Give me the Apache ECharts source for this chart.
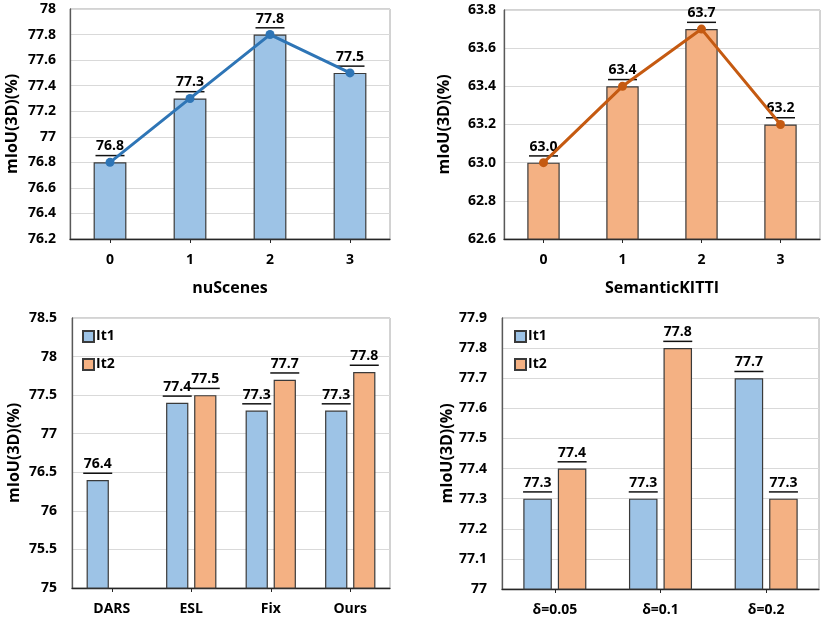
<!DOCTYPE html>
<html>
<head>
<meta charset="utf-8">
<script src="https://cdn.jsdelivr.net/npm/echarts@6/dist/echarts.min.js"></script>
<style>
html,body{margin:0;padding:0;background:#fff;}
#c{width:822px;height:617px;}
</style>
</head>
<body>
<div id="c"></div>
<script>
// ---- data ----
const nuCats = ['0', '1', '2', '3'];
const nuVals = [76.8, 77.3, 77.8, 77.5];
const kittiCats = ['0', '1', '2', '3'];
const kittiVals = [63.0, 63.4, 63.7, 63.2];
const methodCats = ['DARS', 'ESL', 'Fix', 'Ours'];
const methodIt1 = [76.4, 77.4, 77.3, 77.3];
const methodIt2 = [null, 77.5, 77.7, 77.8];
const deltaCats = ['δ=0.05', 'δ=0.1', 'δ=0.2'];
const deltaIt1 = [77.3, 77.3, 77.7];
const deltaIt2 = [77.4, 77.8, 77.3];
const seriesNames = ['It1', 'It2'];
const yName = 'mIoU(3D)(%)';

// ---- style ----
const FONT = '"Open Sans", "Noto Sans", sans-serif';
const BLUE = '#9DC3E6', ORANGE = '#F4B183';
const BLUE_LINE = '#2E75B6', ORANGE_LINE = '#C55A11';
const BORDER = '#3a3a3a';

const labelCfg = {
  show: true,
  position: 'top',
  distance: 6,
  formatter: p => '{t|' + Number(p.value).toFixed(1) + '}\n{u|}',
  rich: {
    t: { fontFamily: FONT, fontWeight: 'bold', fontSize: 14, color: '#000', lineHeight: 17, align: 'center' },
    u: { width: 29, height: 1.5, lineHeight: 1.5, backgroundColor: '#111', align: 'center' }
  }
};

function grid(left, top, width, height) {
  return { left, top, width, height, show: true, borderColor: '#a6a6a6', borderWidth: 1, backgroundColor: 'transparent' };
}
function xAxis(idx, cats, name) {
  return {
    gridIndex: idx, type: 'category', data: cats,
    name: name || '', nameLocation: 'middle', nameGap: 41,
    nameTextStyle: { fontFamily: FONT, fontWeight: 'bold', fontSize: 16, color: '#000' },
    axisLine: { lineStyle: { color: '#262626', width: 1.3 } },
    axisTick: { show: true, alignWithLabel: true, length: 4, lineStyle: { color: '#262626' } },
    axisLabel: { fontFamily: FONT, fontWeight: 'bold', fontSize: 14, color: '#000', margin: 14 },
    splitLine: { show: false }
  };
}
function yAxis(idx, min, max, interval, gap, margin, fmt) {
  return {
    gridIndex: idx, type: 'value', min, max, interval,
    name: yName, nameLocation: 'middle', nameGap: gap, nameRotate: 90,
    nameTextStyle: { fontFamily: FONT, fontWeight: 'bold', fontSize: 16, color: '#000' },
    axisLine: { show: true, lineStyle: { color: '#595959', width: 1.3 } },
    axisTick: { show: false },
    axisLabel: { fontFamily: FONT, fontWeight: 'bold', fontSize: 14, color: '#000', margin: margin, formatter: fmt },
    splitLine: { show: true, lineStyle: { color: '#d9d9d9', width: 1 } }
  };
}
const fmtDefault = v => String(+v.toFixed(2));
const fmt1 = v => v.toFixed(1);

function legend(names, left) {
  return {
    data: names, orient: 'vertical', left: left, top: 327, itemGap: 9, padding: 0,
    itemWidth: 11, itemHeight: 11, icon: 'rect',
    textStyle: { fontFamily: FONT, fontWeight: 'bold', fontSize: 14, color: '#000', padding: [0, 0, 0, -3], lineHeight: 19 }
  };
}

const option = {
  animation: false,
  backgroundColor: '#fff',
  grid: [
    grid(70, 9, 320, 230),
    grid(504, 10, 316, 229),
    grid(72, 318, 318, 270),
    grid(502, 318, 317, 271)
  ],
  xAxis: [
    xAxis(0, nuCats, 'nuScenes'),
    xAxis(1, kittiCats, 'SemanticKITTI'),
    xAxis(2, methodCats),
    xAxis(3, deltaCats)
  ],
  yAxis: [
    yAxis(0, 76.2, 78, 0.2, 50, 14, fmtDefault),
    yAxis(1, 62.6, 63.8, 0.2, 52, 8, fmt1),
    yAxis(2, 75, 78.5, 0.5, 50, 15, fmtDefault),
    yAxis(3, 77, 77.9, 0.1, 46, 15, fmtDefault)
  ],
  legend: [
    legend(seriesNames, 82),
    legend([seriesNames[0] + ' ', seriesNames[1] + ' '], 514)
  ],
  series: [
    { type: 'bar', xAxisIndex: 0, yAxisIndex: 0, data: nuVals, barWidth: '41%',
      itemStyle: { color: BLUE, borderColor: BORDER, borderWidth: 1.2 }, label: labelCfg },
    { type: 'line', xAxisIndex: 0, yAxisIndex: 0, data: nuVals, symbol: 'circle', symbolSize: 9,
      lineStyle: { color: BLUE_LINE, width: 3 }, itemStyle: { color: BLUE_LINE }, z: 3 },
    { type: 'bar', xAxisIndex: 1, yAxisIndex: 1, data: kittiVals, barWidth: '41%',
      itemStyle: { color: ORANGE, borderColor: BORDER, borderWidth: 1.2 }, label: labelCfg },
    { type: 'line', xAxisIndex: 1, yAxisIndex: 1, data: kittiVals, symbol: 'circle', symbolSize: 9,
      lineStyle: { color: ORANGE_LINE, width: 3 }, itemStyle: { color: ORANGE_LINE }, z: 3 },
    { name: seriesNames[0], type: 'bar', xAxisIndex: 2, yAxisIndex: 2, data: methodIt1, barWidth: '28%', barGap: '26%',
      itemStyle: { color: BLUE, borderColor: BORDER, borderWidth: 1.2 }, label: labelCfg },
    { name: seriesNames[1], type: 'bar', xAxisIndex: 2, yAxisIndex: 2, data: methodIt2, barWidth: '28%', barGap: '26%',
      itemStyle: { color: ORANGE, borderColor: BORDER, borderWidth: 1.2 }, label: labelCfg },
    { name: seriesNames[0] + ' ', type: 'bar', xAxisIndex: 3, yAxisIndex: 3, data: deltaIt1, barWidth: '27%', barGap: '21%',
      itemStyle: { color: BLUE, borderColor: BORDER, borderWidth: 1.2 }, label: labelCfg },
    { name: seriesNames[1] + ' ', type: 'bar', xAxisIndex: 3, yAxisIndex: 3, data: deltaIt2, barWidth: '27%', barGap: '21%',
      itemStyle: { color: ORANGE, borderColor: BORDER, borderWidth: 1.2 }, label: labelCfg }
  ]
};

const chart = echarts.init(document.getElementById('c'), null, { renderer: 'canvas' });
chart.setOption(option);
</script>
</body>
</html>
